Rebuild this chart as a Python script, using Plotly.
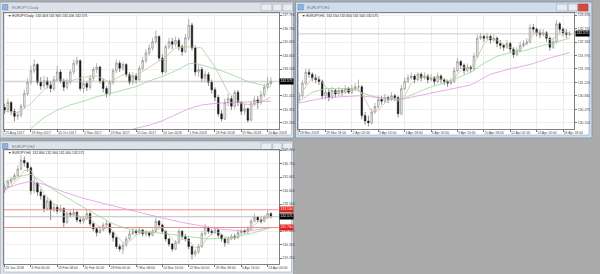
import plotly.graph_objects as go

W, H = 600, 274

# ---------------- Chart 1 : EURJPY Daily (one candle = 2 trading days) ----------------
d1_open0 = 130.5
d1_close = [130.3, 130.9, 130.2, 129.8, 129.9, 130.6, 131.6, 132.5, 133.4, 133.9,
            132.5, 132.2, 132.6, 132.3, 132.0, 132.7, 133.3, 132.6, 132.1, 132.5,
            133.3, 134.0, 134.2, 132.0, 132.4, 132.1, 132.8, 133.5, 133.7, 132.6,
            132.0, 131.6, 132.5, 133.4, 134.0, 133.6, 133.9, 133.1, 132.5, 133.0,
            132.7, 133.6, 134.2, 134.8, 135.2, 135.7, 136.1, 134.4, 133.3, 135.3,
            135.7, 135.5, 135.8, 135.3, 134.9, 136.0, 137.0, 135.2, 133.3, 133.5,
            132.8, 133.1, 132.5, 131.9, 131.3, 130.0, 129.6, 130.9, 131.2, 130.6,
            131.7, 130.9, 130.2, 130.4, 129.5, 130.8, 131.1, 130.9, 131.5, 132.1,
            132.4, 132.571]
d1_high = [130.8, 131.2, 131.0, 130.4, 130.2, 130.8, 131.9, 132.8, 133.8, 134.3,
           134.0, 132.9, 133.0, 132.9, 132.6, 133.0, 133.8, 133.5, 132.8, 132.8,
           133.5, 134.3, 134.5, 134.3, 132.8, 132.6, 133.1, 133.7, 134.0, 133.8,
           132.8, 132.2, 132.7, 133.6, 134.3, 134.2, 134.1, 134.0, 133.3, 133.3,
           133.2, 133.8, 134.5, 135.1, 135.5, 136.0, 136.6, 136.2, 134.7, 135.5,
           136.0, 136.0, 136.1, 136.0, 135.5, 136.3, 137.5, 137.2, 135.4, 133.9,
           133.7, 133.4, 133.3, 132.7, 132.1, 131.5, 130.3, 131.2, 131.6, 131.4,
           131.9, 131.9, 131.0, 130.8, 130.5, 131.0, 131.4, 131.4, 131.8, 132.4,
           132.9, 132.9]
d1_low = [130.0, 130.1, 129.9, 129.4, 129.5, 129.7, 130.4, 131.4, 132.3, 133.2,
          132.3, 131.9, 132.0, 132.0, 131.7, 131.8, 132.5, 132.4, 131.8, 131.9,
          132.3, 133.1, 133.8, 131.8, 131.7, 131.8, 131.9, 132.6, 133.2, 132.4,
          131.7, 131.3, 131.4, 132.3, 133.2, 133.3, 133.4, 132.9, 132.3, 132.3,
          132.4, 132.6, 133.4, 134.0, 134.6, 135.0, 135.5, 134.2, 133.1, 133.2,
          135.1, 135.1, 135.3, 135.0, 134.6, 134.8, 135.8, 135.0, 133.0, 132.9,
          132.5, 132.5, 132.2, 131.6, 131.0, 129.8, 129.4, 129.5, 130.6, 130.3,
          130.4, 130.6, 129.9, 129.9, 129.3, 129.4, 130.6, 130.4, 130.7, 131.3,
          131.9, 132.2]
d1_fast_x = [0, 4, 8, 12, 16, 20, 24, 28, 32, 36, 40, 44, 48, 52, 56, 60, 64, 68, 72, 76, 81]
d1_fast = [130.2, 130.1, 130.8, 131.9, 132.7, 132.6, 132.9, 133.0, 132.5, 133.1, 133.0,
           133.7, 134.3, 135.2, 135.3, 135.2, 133.7, 131.7, 130.8, 130.7, 131.3]
d1_mid_x = [8, 12, 16, 20, 24, 28, 32, 36, 40, 44, 48, 52, 56, 58, 62, 66, 70, 74, 78, 81]
d1_mid = [128.85, 129.7, 130.3, 130.7, 131.0, 131.35, 131.6, 131.85, 132.15, 132.6,
          132.95, 133.4, 133.95, 134.0, 133.7, 133.4, 133.0, 132.55, 132.3, 132.1]
d1_slow_x = [39, 44, 48, 52, 56, 60, 64, 70, 76, 81]
d1_slow = [128.8, 129.1, 129.45, 129.9, 130.4, 130.7, 130.82, 130.9, 130.95, 131.0]
d1_labels = ["25 Aug 2017", "18 Sep 2017", "10 Oct 2017", "1 Nov 2017", "23 Nov 2017",
             "15 Dec 2017", "10 Jan 2018", "1 Feb 2018", "23 Feb 2018", "19 Mar 2018",
             "10 Apr 2018"]

# ---------------- Chart 2 : EURJPY H1 (one candle = 4 hours) ----------------
h1_open0 = 130.75
h1_close = [130.85, 131.2, 131.5, 131.45, 131.35, 131.3, 131.25, 130.85, 130.95, 130.8,
            131.0, 130.9, 131.0, 130.95, 131.05, 130.95, 131.05, 131.1, 131.1, 130.3,
            130.15, 130.1, 130.4, 130.55, 130.75, 130.7, 130.8, 130.75, 130.85, 130.8,
            130.35, 131.05, 131.25, 131.35, 131.4, 131.3, 131.45, 131.35, 131.4, 131.3,
            131.35, 131.25, 131.4, 131.3, 131.25, 131.2, 131.25, 131.55, 131.8, 131.7,
            131.55, 131.65, 131.6, 131.95, 132.45, 132.5, 132.45, 132.5, 132.4, 132.45,
            132.3, 132.25, 132.2, 132.3, 132.15, 132.0, 132.1, 132.25, 132.3, 132.35,
            132.75, 132.7, 132.6, 132.55, 132.6, 132.45, 132.2, 132.35, 132.85, 132.7,
            132.6, 132.55, 132.571]
h1_high = [130.95, 131.3, 131.6, 131.6, 131.5, 131.45, 131.4, 131.3, 131.05, 131.05,
           131.1, 131.05, 131.1, 131.05, 131.15, 131.1, 131.15, 131.2, 131.3, 131.15,
           130.4, 130.3, 130.5, 130.65, 130.85, 130.85, 130.9, 130.85, 130.95, 130.9,
           130.85, 131.15, 131.35, 131.45, 131.5, 131.45, 131.5, 131.5, 131.5, 131.45,
           131.45, 131.4, 131.5, 131.45, 131.35, 131.3, 131.35, 131.65, 131.9, 131.85,
           131.75, 131.75, 131.7, 132.05, 132.55, 132.6, 132.55, 132.6, 132.55, 132.55,
           132.5, 132.4, 132.3, 132.4, 132.35, 132.2, 132.2, 132.35, 132.4, 132.45,
           132.85, 132.85, 132.75, 132.7, 132.7, 132.65, 132.5, 132.45, 132.95, 132.9,
           132.75, 132.7, 132.65]
h1_low = [130.65, 130.8, 131.15, 131.35, 131.25, 131.2, 131.15, 130.75, 130.75, 130.7,
          130.75, 130.8, 130.85, 130.85, 130.9, 130.9, 130.9, 131.0, 131.0, 130.2,
          130.05, 130.0, 130.05, 130.35, 130.5, 130.6, 130.65, 130.65, 130.7, 130.7,
          130.25, 130.3, 131.0, 131.2, 131.3, 131.2, 131.25, 131.25, 131.3, 131.2,
          131.25, 131.15, 131.2, 131.2, 131.15, 131.1, 131.15, 131.2, 131.5, 131.6,
          131.45, 131.5, 131.5, 131.55, 131.9, 132.4, 132.35, 132.4, 132.3, 132.35,
          132.2, 132.15, 132.1, 132.15, 132.05, 131.9, 131.95, 132.05, 132.2, 132.25,
          132.3, 132.6, 132.5, 132.45, 132.5, 132.35, 132.1, 132.15, 132.3, 132.6,
          132.5, 132.45, 132.5]
h1_fast_x = list(range(0, 83, 2))
h1_fast = [130.8, 131.1, 131.35, 131.35, 131.1, 130.95, 130.95, 131.0, 131.0, 131.05,
           130.75, 130.4, 130.45, 130.65, 130.8, 130.7, 130.85, 131.2, 131.35, 131.4,
           131.35, 131.33, 131.3, 131.25, 131.45, 131.65, 131.62, 131.9, 132.3, 132.45,
           132.4, 132.28, 132.2, 132.1, 132.2, 132.45, 132.62, 132.6, 132.4, 132.5,
           132.65, 132.6]
h1_mid_x = [0, 4, 8, 12, 16, 20, 24, 28, 31, 36, 40, 44, 48, 52, 56, 60, 64, 68, 72, 76, 80, 82]
h1_mid = [130.7, 130.95, 131.05, 131.05, 131.05, 130.9, 130.8, 130.75, 130.75, 130.95, 131.1,
          131.2, 131.35, 131.5, 131.75, 131.95, 132.05, 132.1, 132.2, 132.3, 132.4, 132.45]
h1_slow_x = [0, 8, 18, 24, 31, 36, 44, 52, 58, 64, 70, 76, 82]
h1_slow = [130.65, 130.8, 130.85, 130.8, 130.75, 130.85, 131.0, 131.15, 131.45, 131.6,
           131.72, 131.9, 132.05]
h1_labels = ["28 Mar 2018", "29 Mar 18:00", "2 Apr 02:00", "3 Apr 10:00", "4 Apr 18:00",
             "6 Apr 02:00", "9 Apr 10:00", "10 Apr 18:00", "12 Apr 02:00", "13 Apr 10:00",
             "16 Apr 18:00"]

# ---------------- Chart 3 : EURJPY H4 (one candle = 16 hours) ----------------
h4_open0 = 134.7
h4_close = [134.9, 135.3, 135.5, 135.8, 136.3, 137.0, 136.8, 136.4, 134.6, 135.2,
            134.5, 134.2, 133.2, 133.8, 133.1, 133.3, 133.0, 133.2, 132.1, 132.8,
            132.7, 132.9, 132.3, 132.2, 132.4, 132.8, 132.0, 131.6, 131.3, 131.5,
            131.9, 132.0, 131.3, 130.9, 130.2, 130.0, 130.3, 130.8, 131.2, 131.4,
            131.3, 131.5, 131.2, 131.3, 131.1, 131.4, 132.2, 131.9, 131.4, 130.8,
            130.4, 130.0, 130.5, 131.4, 131.0, 130.8, 130.2, 129.6, 129.8, 130.2,
            131.2, 131.7, 131.4, 131.3, 131.5, 131.1, 130.8, 130.5, 130.8, 131.0,
            130.9, 131.3, 131.4, 131.35, 131.6, 132.2, 132.5, 132.3, 132.2, 132.5,
            132.8, 132.571]
h4_high = [135.2, 135.5, 135.7, 136.0, 136.6, 137.4, 137.3, 136.9, 136.5, 135.6,
           135.3, 134.7, 134.3, 134.1, 133.9, 133.6, 133.5, 133.5, 133.3, 133.0,
           133.0, 133.2, 133.0, 132.5, 132.6, 133.1, 132.9, 132.1, 131.7, 131.8,
           132.1, 132.3, 132.1, 131.4, 131.0, 130.4, 130.5, 131.0, 131.5, 131.7,
           131.6, 131.7, 131.6, 131.5, 131.4, 131.6, 132.5, 132.3, 132.0, 131.5,
           130.9, 130.5, 130.7, 131.6, 131.5, 131.2, 130.9, 130.3, 130.0, 130.4,
           131.4, 132.0, 131.8, 131.6, 131.7, 131.6, 131.2, 130.9, 131.0, 131.2,
           131.2, 131.5, 131.6, 131.6, 131.8, 132.4, 132.8, 132.6, 132.5, 132.7,
           133.1, 132.9]
h4_low = [134.4, 134.8, 135.1, 135.4, 135.7, 136.2, 136.5, 136.1, 134.3, 134.4,
          134.2, 133.9, 132.9, 133.0, 132.3, 132.9, 132.8, 132.9, 131.7, 132.0,
          132.5, 132.6, 132.1, 132.0, 132.0, 132.3, 131.8, 131.4, 131.0, 131.2,
          131.4, 131.7, 131.1, 130.6, 130.0, 129.8, 129.6, 130.2, 130.7, 131.1,
          131.1, 131.2, 131.0, 131.0, 130.9, 131.0, 131.3, 131.7, 131.2, 130.6,
          130.2, 129.8, 129.9, 130.4, 130.8, 130.6, 130.0, 129.2, 129.4, 129.6,
          130.1, 131.0, 131.2, 131.1, 131.2, 130.9, 130.6, 130.2, 130.4, 130.7,
          130.7, 130.8, 131.2, 131.2, 131.2, 131.5, 132.1, 132.1, 132.0, 132.1,
          132.4, 132.4]
h4_fast_x = list(range(0, 81, 2)) + [81]
h4_fast = [134.6, 135.0, 135.5, 136.2, 136.2, 135.3, 134.4, 133.8, 133.4, 132.9,
           132.7, 132.7, 132.4, 132.4, 131.9, 131.6, 131.7, 131.1, 130.5, 130.6,
           131.1, 131.3, 131.3, 131.5, 131.7, 131.1, 130.5, 130.8, 130.7, 130.1,
           130.3, 131.0, 131.4, 131.2, 130.8, 130.9, 131.2, 131.4, 131.9, 132.3,
           132.5, 132.55]
h4_mid_x = [0, 4, 8, 12, 16, 20, 24, 28, 32, 36, 40, 46, 52, 58, 62, 66, 70, 76, 81]
h4_mid = [135.3, 135.7, 135.9, 135.2, 134.5, 133.9, 133.3, 132.7, 132.1, 131.7, 131.45,
          131.3, 131.1, 130.9, 130.8, 130.85, 130.95, 131.3, 131.7]
h4_slow_x = [0, 4, 8, 12, 18, 24, 30, 36, 42, 48, 54, 60, 66, 72, 76, 81]
h4_slow = [134.75, 135.1, 135.35, 135.1, 134.5, 134.0, 133.6, 133.2, 132.85, 132.45,
           132.1, 131.8, 131.55, 131.45, 131.5, 131.7]
h4_labels = ["26 Jan 2018", "6 Feb 00:00", "13 Feb 08:00", "20 Feb 16:00", "28 Feb 00:00",
             "7 Mar 08:00", "14 Mar 16:00", "22 Mar 00:00", "29 Mar 08:00", "5 Apr 16:00",
             "13 Apr 00:00"]
h4_levels = [133.10, 131.70]

label_idx = [0, 8, 16, 24, 32, 40, 48, 56, 64, 72, 80]
p13_ticks = [137.790, 136.728, 135.665, 134.603, 133.540, 132.478, 131.415, 130.353, 129.290]
# the 132.480 label sits under the current-price box in the reference
p13_text = ["137.790", "136.730", "135.665", "134.605", "133.540", "", "131.415", "130.355", "129.290"]
p2_ticks = [133.090, 132.716, 132.343, 131.969, 131.595, 131.221, 130.848, 130.474, 130.100]
p2_text = ["133.090", "132.715", "132.340", "131.970", "131.595", "131.220", "130.845", "130.475", "130.100"]

FONT = "Liberation Sans"
FS = 3.4


def px(x):
    return x / W


def py(y):
    return 1 - y / H


def rect(x0, y0, x1, y1, fill, line=None, lw=0.0):
    return dict(type="rect", xref="paper", yref="paper", x0=px(x0), x1=px(x1),
                y0=py(y1), y1=py(y0), fillcolor=fill,
                line=dict(color=line or fill, width=lw), layer="below")


fig = go.Figure()
shapes = []
annotations = []

windows = [
    dict(box=(0, 0, 298, 137), client=(4, 11, 296, 134), frame="#dde2e9", edge="#8d99a8",
         title="EURJPY,Daily", active=False),
    dict(box=(300, 0, 601, 137), client=(303, 11, 598, 134), frame="#cfdcec", edge="#7f93ad",
         title="EURJPY,H1", active=True),
    dict(box=(0, 140, 298, 280), client=(4, 149, 296, 272), frame="#dde2e9", edge="#8d99a8",
         title="EURJPY,H4", active=False),
]
for wdw in windows:
    x0, y0, x1, y1 = wdw["box"]
    shapes.append(rect(x0, y0, x1, y1, wdw["frame"], wdw["edge"], 0.8))
    cx0, cy0, cx1, cy1 = wdw["client"]
    shapes.append(rect(cx0, cy0, cx1, cy1, "white", "#9aa5b3", 0.6))
    shapes.append(rect(x0 + 2.5, y0 + 2.5, x0 + 8, y0 + 8, "#8fb3dc", "#5f86b8", 0.5))
    annotations.append(dict(x=px(x0 + 10), y=py(y0 + 5.3), xref="paper", yref="paper",
                            text=wdw["title"], showarrow=False, xanchor="left", yanchor="middle",
                            font=dict(family=FONT, size=4.2, color="#6c7c92")))
    bx = x0 + 265
    shapes.append(rect(bx, y0 + 2, bx + 11, y0 + 9, "#e9ecf0", "#98a2ae", 0.5))
    shapes.append(rect(bx + 12, y0 + 2, bx + 21, y0 + 9, "#e9ecf0", "#98a2ae", 0.5))
    if wdw["active"]:
        shapes.append(rect(bx + 22, y0 + 2, bx + 32, y0 + 9, "#d8473b", "#a83228", 0.5))
    else:
        shapes.append(rect(bx + 22, y0 + 2, bx + 32, y0 + 9, "#e9ecf0", "#98a2ae", 0.5))

charts = [
    dict(n="", name="EURJPY,Daily", o0=d1_open0, c=d1_close, h=d1_high, l=d1_low,
         fast=(d1_fast_x, d1_fast), mid=(d1_mid_x, d1_mid), slow=(d1_slow_x, d1_slow),
         labels=d1_labels, pt=p13_ticks, ptxt=p13_text,
         xd=(4, 283), yd=(11, 128), yr=(128.796, 137.970),
         head="132.403 132.905 132.206 132.571", levels=[]),
    dict(n="2", name="EURJPY,H1", o0=h1_open0, c=h1_close, h=h1_high, l=h1_low,
         fast=(h1_fast_x, h1_fast), mid=(h1_mid_x, h1_mid), slow=(h1_slow_x, h1_slow),
         labels=h1_labels, pt=p2_ticks, ptxt=p2_text,
         xd=(303, 583), yd=(11, 128), yr=(129.926, 133.153),
         head="132.550 132.650 132.500 132.571", levels=[]),
    dict(n="3", name="EURJPY,H4", o0=h4_open0, c=h4_close, h=h4_high, l=h4_low,
         fast=(h4_fast_x, h4_fast), mid=(h4_mid_x, h4_mid), slow=(h4_slow_x, h4_slow),
         labels=h4_labels, pt=p13_ticks, ptxt=p13_text,
         xd=(4, 283), yd=(149, 264), yr=(128.821, 137.813),
         head="132.800 132.900 132.400 132.571", levels=h4_levels),
]

layout_axes = {}
for ch in charts:
    n = ch["n"]
    xa, ya = "x" + n, "y" + n
    idx = list(range(len(ch["c"])))
    opens = [ch["o0"]] + ch["c"][:-1]
    fig.add_trace(go.Candlestick(
        x=idx, open=opens, high=ch["h"], low=ch["l"], close=ch["c"],
        xaxis=xa, yaxis=ya, whiskerwidth=0, showlegend=False, hoverinfo="skip",
        increasing=dict(line=dict(color="#6e6e6e", width=0.5), fillcolor="#f4f4f4"),
        decreasing=dict(line=dict(color="#1a1a1a", width=0.5), fillcolor="#1a1a1a")))
    for (mx, my), col in ((ch["fast"], "#cbc39c"), (ch["mid"], "#98d698"), (ch["slow"], "#dc9be0")):
        fig.add_trace(go.Scatter(x=mx, y=my, mode="lines", xaxis=xa, yaxis=ya,
                                 line=dict(color=col, width=0.8), showlegend=False,
                                 hoverinfo="skip"))
    xkey = "xaxis" + n
    ykey = "yaxis" + n
    layout_axes[xkey] = dict(
        domain=[px(ch["xd"][0]), px(ch["xd"][1])], anchor=ya, range=[-0.2, 83.4],
        tickmode="array", tickvals=label_idx, ticktext=ch["labels"], tickangle=0,
        ticklabelposition="outside right", ticks="outside", ticklen=2, tickwidth=0.6,
        tickcolor="#777", tickfont=dict(family=FONT, size=FS, color="#444"),
        showgrid=True, gridcolor="#ececec", gridwidth=0.6, zeroline=False,
        showline=True, linecolor="#808080", linewidth=0.8, mirror=True,
        rangeslider=dict(visible=False), fixedrange=True)
    layout_axes[ykey] = dict(
        domain=[py(ch["yd"][1]), py(ch["yd"][0])], anchor=xa, range=list(ch["yr"]),
        side="right", tickmode="array", tickvals=ch["pt"], ticktext=ch["ptxt"], tickangle=0,
        ticks="outside", ticklen=2, tickwidth=0.6, tickcolor="#777",
        tickfont=dict(family=FONT, size=FS, color="#444"),
        showgrid=True, gridcolor="#efefef", gridwidth=0.6, zeroline=False,
        showline=True, linecolor="#808080", linewidth=0.8, mirror=True, fixedrange=True)

    last = ch["c"][-1]
    shapes.append(dict(type="line", xref=xa + " domain", yref=ya, x0=0, x1=1, y0=last, y1=last,
                       line=dict(color="#b5b5b5", width=0.7)))
    for lv in ch["levels"]:
        shapes.append(dict(type="line", xref=xa + " domain", yref=ya, x0=0, x1=1, y0=lv, y1=lv,
                           line=dict(color="#f28c8c", width=1.2)))
        annotations.append(dict(x=px(ch["xd"][1] + 0.5), y=lv, xref="paper", yref=ya,
                                text=f"{lv:.3f}", showarrow=False, xanchor="left",
                                yanchor="middle", bgcolor="#e51c1c", borderpad=0.4,
                                font=dict(family=FONT, size=FS, color="white")))
    annotations.append(dict(x=px(ch["xd"][1] + 0.5), y=last, xref="paper", yref=ya,
                            text=f"{last:.3f}", showarrow=False, xanchor="left",
                            yanchor="middle", bgcolor="#000000", borderpad=0.4,
                            font=dict(family=FONT, size=FS, color="white")))
    annotations.append(dict(x=px(ch["xd"][0] + 2), y=py(ch["yd"][0] + 3.2), xref="paper",
                            yref="paper", text="▼ " + ch["name"] + "  " + ch["head"],
                            showarrow=False, xanchor="left", yanchor="middle",
                            font=dict(family=FONT, size=FS, color="#222")))

fig.update_layout(
    width=W, height=H, margin=dict(l=0, r=0, t=0, b=0, pad=0),
    paper_bgcolor="#ababab", plot_bgcolor="white",
    showlegend=False, shapes=shapes, annotations=annotations,
    font=dict(family=FONT, size=FS), hovermode=False,
    **layout_axes)

fig.write_html("out.html", config={"displayModeBar": False})
